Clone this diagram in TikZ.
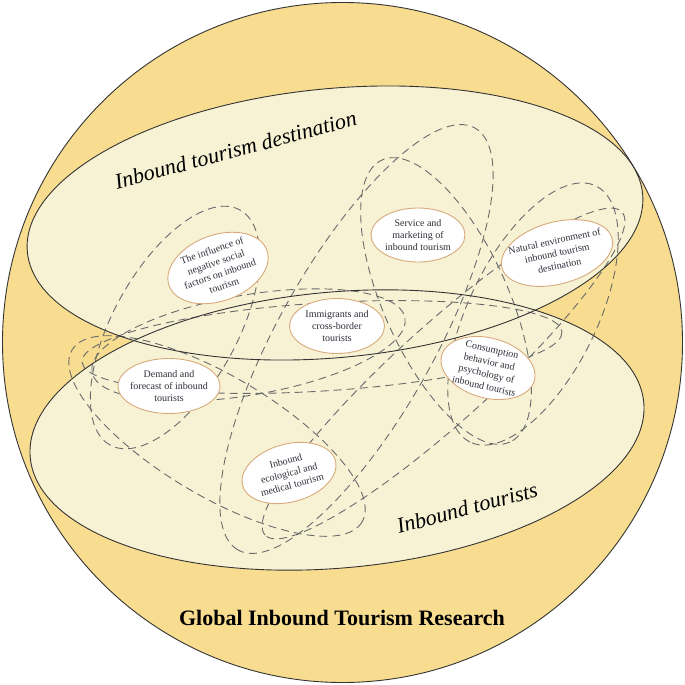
\documentclass[tikz,border=0pt]{standalone}
\usepackage{fontspec}
\setmainfont{Liberation Serif}
\usetikzlibrary{shapes.geometric}
\definecolor{outery}{HTML}{F8DD90}
\definecolor{cream}{HTML}{F8F2D5}
\definecolor{edgec}{HTML}{333333}
\definecolor{dashc}{HTML}{6A6A6A}
\definecolor{bubbleedge}{HTML}{D8AA7A}
\definecolor{txtc}{HTML}{2E2E3A}
\tikzset{
  dloop/.style={draw=dashc, line width=0.9pt, dash pattern=on 8pt off 5pt},
  bigedge/.style={draw=edgec, line width=0.9pt},
  bubble/.style={ellipse, draw=bubbleedge, fill=white, line width=0.9pt, inner sep=0pt},
  btext/.style={font=\fontsize{10}{12.4}\selectfont, text=txtc, align=center, inner sep=0pt},
  biglabel/.style={font=\fontsize{22}{26}\selectfont\itshape, text=black, anchor=base, inner sep=0pt},
}
\newcommand{\dashloop}[5]{%
  \pgfmathsetmacro\lpcx{(#1+#3)/2}%
  \pgfmathsetmacro\lpcy{(#2+#4)/2}%
  \pgfmathsetmacro\lpang{atan2(-(#4-#2),#3-#1)}%
  \pgfmathsetmacro\lpa{veclen(#3-#1,#4-#2)/2}%
  \draw[dloop, rotate around={\lpang:(\lpcx,\lpcy)}] (\lpcx,\lpcy) ellipse [x radius=\lpa, y radius=#5];
}
\begin{document}
\begin{tikzpicture}[x=1pt,y=-1pt]
\useasboundingbox (0,0) rectangle (685,685);
% globe
\draw[fill=outery, bigedge] (342.5,342.5) circle [radius=340];
% two big ellipses
\fill[cream, rotate around={5.4:(335,223)}] (335,223) ellipse [x radius=309, y radius=134.5];
\fill[cream, rotate around={5.1:(337,430)}] (337,430) ellipse [x radius=308, y radius=138];
% dashed loops
\dashloop{240}{210}{110}{445}{62}
\dashloop{92}{372}{405}{318}{50}
\dashloop{72}{350}{362}{522}{60}
\dashloop{475}{128}{238}{550}{78}
\dashloop{382}{160}{510}{442}{62}
\dashloop{596}{186}{470}{442}{64}
\dashloop{622}{212}{265}{535}{48}
\dashloop{82}{362}{562}{332}{44}
% outlines
\draw[bigedge, rotate around={5.4:(335,223)}] (335,223) ellipse [x radius=309, y radius=134.5];
\draw[bigedge, rotate around={5.1:(337,430)}] (337,430) ellipse [x radius=308, y radius=138];
% bubbles
\node[bubble, minimum width=104, minimum height=66, rotate=20] (infl) at (218,268) {};
\node[btext, rotate=19] at (infl) {The influence of\\negative social\\factors on inbound\\tourism};
\node[bubble, minimum width=94, minimum height=54] (serv) at (418,235) {};
\node[btext] at (serv) {Service and\\marketing of\\inbound tourism};
\node[bubble, minimum width=114, minimum height=62, rotate=15] (natu) at (557,253) {};
\node[btext, rotate=12] at (natu) {Natural environment of\\inbound tourism\\destination};
\node[bubble, minimum width=95, minimum height=55] (immi) at (337,326) {};
\node[btext] at (immi) {Immigrants and\\cross-border\\tourists};
\node[bubble, minimum width=96, minimum height=60, rotate=-15] (cons) at (488,368) {};
\node[btext, rotate=-13] at (cons) {Consumption\\behavior and\\psychology of\\inbound tourists};
\node[bubble, minimum width=102, minimum height=55] (dema) at (169,386) {};
\node[btext] at (dema) {Demand and\\forecast of inbound\\tourists};
\node[bubble, minimum width=96, minimum height=58, rotate=15] (ecol) at (289,473) {};
\node[btext, rotate=15] at (ecol) {Inbound\\ecological and\\medical tourism};
% labels
\node[biglabel, rotate=15] (dest) at (237.5,157) {Inbound tourism destination};
\node[biglabel, rotate=15] (tour) at (469,515) {Inbound tourists};
\node[font=\fontsize{22}{26}\selectfont\bfseries, anchor=base, inner sep=0pt] (title) at (342,625) {Global Inbound Tourism Research};
\end{tikzpicture}
\end{document}
